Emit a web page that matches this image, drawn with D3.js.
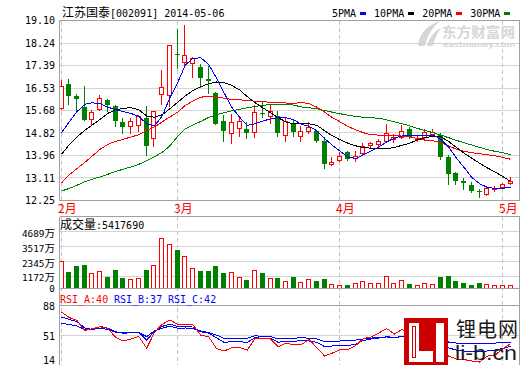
<!DOCTYPE html>
<html><head><meta charset="utf-8">
<script src="https://cdn.jsdelivr.net/npm/d3@7"></script>
<style>html,body{margin:0;padding:0;background:#fff}svg{display:block}</style>
</head><body>
<svg id="c" width="520" height="365"></svg>
<script>
// ---------------- data ----------------
const title = "江苏国泰[002091] 2014-05-06";
const dates = [
"2014-02-10","2014-02-11","2014-02-12","2014-02-13","2014-02-14",
"2014-02-17","2014-02-18","2014-02-19","2014-02-20","2014-02-21",
"2014-02-24","2014-02-25","2014-02-26","2014-02-27","2014-02-28",
"2014-03-03","2014-03-04","2014-03-05","2014-03-06","2014-03-07",
"2014-03-10","2014-03-11","2014-03-12","2014-03-13","2014-03-14",
"2014-03-17","2014-03-18","2014-03-19","2014-03-20","2014-03-21",
"2014-03-24","2014-03-25","2014-03-26","2014-03-27","2014-03-28",
"2014-03-31","2014-04-01","2014-04-02","2014-04-03","2014-04-04",
"2014-04-08","2014-04-09","2014-04-10","2014-04-11",
"2014-04-14","2014-04-15","2014-04-16","2014-04-17","2014-04-18",
"2014-04-21","2014-04-22","2014-04-23","2014-04-24","2014-04-25",
"2014-04-28","2014-04-29","2014-04-30","2014-05-05","2014-05-06"];
const open = [
15.78,16.69,16.21,15.81,15.37,15.73,16.08,15.84,15.23,15.08,
15.12,15.40,14.61,16.32,16.26,17.84,17.51,17.48,17.34,16.88,
16.35,15.29,14.81,15.00,14.99,14.85,15.59,15.46,15.46,14.73,
15.21,14.70,14.88,14.90,14.53,13.63,13.81,14.10,13.86,14.04,
14.35,14.41,14.50,14.60,14.67,14.97,14.59,14.66,14.77,14.74,
13.89,13.28,13.00,12.84,12.60,12.49,12.68,12.75,12.92];
const high = [
16.82,16.88,16.31,16.60,15.70,16.26,16.11,15.88,15.40,15.40,
15.52,15.85,15.67,17.20,18.18,18.78,18.92,17.73,17.43,17.36,
16.38,15.50,15.55,15.43,15.24,15.88,16.04,15.93,15.65,15.42,
15.32,15.07,15.23,14.95,14.65,13.89,14.10,14.14,14.15,14.45,
14.48,14.60,15.17,14.79,15.13,15.04,14.75,14.96,14.96,14.83,
13.99,13.34,13.10,12.94,12.70,12.75,12.80,12.91,13.14];
const low = [
15.75,15.93,15.71,15.33,15.17,15.70,15.65,15.10,14.83,14.80,
14.89,14.00,14.32,15.93,15.84,17.31,17.38,16.95,16.58,16.35,
15.15,14.53,14.43,14.69,14.64,14.67,15.42,15.19,14.71,14.53,
14.71,14.53,14.83,14.49,13.49,13.59,13.76,13.80,13.76,14.01,
14.29,14.33,14.48,14.48,14.62,14.62,14.52,14.54,14.69,13.82,
12.87,12.87,12.70,12.58,12.37,12.45,12.63,12.73,12.89];
const close = [
16.60,16.21,16.11,15.33,15.61,16.15,15.90,15.29,15.04,15.26,
15.45,14.34,15.65,16.56,18.16,17.78,17.79,17.68,16.92,16.78,
15.17,14.91,15.23,15.27,14.81,15.61,15.55,15.64,14.83,15.26,
14.87,14.89,15.04,14.53,13.63,13.72,13.96,13.84,13.95,14.34,
14.43,14.52,14.82,14.66,14.88,14.66,14.64,14.86,14.85,13.89,
13.27,13.00,12.90,12.60,12.58,12.71,12.73,12.87,12.99];
// volume in 万 (10k shares)
const volume = [
2384,1547,2016,2071,1422,1602,1157,1680,1078,977,
1078,1680,2071,4204,3712,3243,2774,1860,1602,1602,
1993,1469,1547,1157,899,1680,1469,1078,1078,820,
1157,719,977,820,977,563,508,508,641,820,
641,641,1211,641,899,586,508,641,586,1157,
1211,844,688,508,688,586,508,508,541.769];
const ma5 = [
14.83,15.24,15.63,15.91,15.97,15.93,15.80,15.71,15.63,15.56,
15.45,15.17,15.09,15.46,16.16,16.73,17.41,17.66,17.68,17.43,
16.92,16.35,15.80,15.42,15.11,15.17,15.27,15.36,15.40,15.40,
15.32,15.15,15.07,14.90,14.60,14.35,14.12,13.91,13.84,13.99,
14.14,14.29,14.48,14.62,14.71,14.74,14.73,14.74,14.74,14.58,
14.29,13.87,13.51,13.13,12.89,12.75,12.71,12.71,12.76];
const ma10 = [
14.01,14.37,14.67,14.92,15.13,15.34,15.57,15.70,15.76,15.78,
15.70,15.47,15.42,15.51,15.74,15.99,16.23,16.44,16.58,16.69,
16.76,16.73,16.63,16.46,16.20,15.97,15.78,15.59,15.40,15.24,
15.16,15.19,15.17,15.11,14.90,14.71,14.56,14.43,14.33,14.27,
14.24,14.22,14.22,14.27,14.35,14.43,14.56,14.64,14.70,14.67,
14.50,14.27,14.05,13.86,13.67,13.49,13.34,13.16,12.98];
const ma20 = [
12.92,13.23,13.46,13.70,13.95,14.20,14.39,14.50,14.58,14.67,
14.75,14.92,15.05,15.24,15.43,15.61,15.87,16.04,16.18,16.22,
16.20,16.14,16.10,16.08,16.06,16.03,16.01,15.99,15.97,15.96,
15.94,15.99,15.93,15.80,15.61,15.40,15.24,15.07,14.94,14.83,
14.75,14.74,14.74,14.72,14.70,14.67,14.61,14.54,14.52,14.46,
14.33,14.20,14.12,14.07,14.03,13.99,13.95,13.89,13.82];
const ma30 = [
12.61,12.71,12.83,12.96,13.06,13.15,13.25,13.36,13.44,13.53,
13.63,13.76,13.91,14.08,14.33,14.69,14.98,15.13,15.26,15.41,
15.51,15.59,15.66,15.72,15.78,15.83,15.87,15.90,15.92,15.91,
15.88,15.81,15.78,15.74,15.67,15.61,15.55,15.50,15.45,15.42,
15.40,15.38,15.32,15.24,15.17,15.09,14.99,14.91,14.83,14.74,
14.64,14.54,14.45,14.36,14.27,14.19,14.12,14.07,13.99];
const rsiA = [
79.8,72.9,69.2,56.6,59.1,61.4,59.1,47.9,43.5,46.0,
49.1,34.3,54.1,64.4,69.8,64.4,64.4,63.5,50.6,48.9,
34.3,30.9,35.1,35.1,32.2,46.6,46.0,46.0,36.3,41.0,
38.4,39.1,45.3,34.7,24.6,28.4,32.8,32.8,37.8,46.6,
48.5,53.5,59.1,52.2,57.9,49.7,51.0,56.0,54.7,32.2,
24.6,20.9,20.2,18.4,17.1,24.6,25.8,33.4,40.3];
const rsiB = [
73.6,70.4,67.9,59.8,57.9,61.7,59.4,55.1,53.1,54.1,
54.1,44.7,55.4,61.7,64.8,61.4,61.4,61.0,55.1,53.5,
47.6,41.8,42.6,42.6,41.8,47.6,46.8,46.8,41.8,43.5,
42.6,44.7,43.5,41.8,36.3,37.2,37.6,37.6,39.7,44.1,
46.0,47.2,48.9,47.9,49.1,47.9,48.5,49.7,49.1,39.7,
34.7,32.2,30.9,30.3,30.0,30.9,32.2,34.0,36.9];
const rsiC = [
65.7,64.2,62.3,57.9,58.1,59.4,57.9,54.4,54.1,54.1,
54.1,48.9,56.0,59.4,62.3,59.4,59.8,59.1,56.0,54.1,
51.0,46.8,46.8,46.8,46.8,50.1,49.1,48.9,46.0,46.8,
46.6,47.9,46.8,46.0,42.6,42.8,43.5,43.5,44.7,46.0,
47.2,47.9,48.5,47.9,48.9,48.5,48.5,49.1,49.1,44.7,
42.2,40.9,40.6,40.6,40.6,40.6,40.9,41.3,41.8];
const priceTicks = [12.25,13.11,13.96,14.82,15.68,16.53,17.39,18.24,19.10];
const volTicks = [0,1172,2345,3517,4689];
const rsiTicks = [14,51,88];
const maNames = ["5PMA","10PMA","20PMA","30PMA"];
const rsiNames = ["RSI_A","RSI_B","RSI_C"];

// ---------------- layout ----------------
const MONO = "'DejaVu Sans Mono','Liberation Mono',monospace";
const CJK = "'Noto Sans CJK SC','Noto Sans CJK JP',sans-serif";
const RED = "#ff0000", GREEN = "#008000", BLUE = "#0000ff", BLACK = "#000000";
const GRID = "#d4d4d4", BORDER = "#a0a0a0";
const L = 59.5, R = 519.5;
const pTop = 20.5, pBot = 200.5;
const vTop = 216.5, vBot = 288.5;
const rTop = 305.5, rBot = 364.5;

const svg = d3.select("#c");
const x = d3.scalePoint().domain(dates).range([61, 510]);
const y = d3.scaleLinear().domain([12.25, 19.10]).range([pBot, pTop]);
const yv = d3.scaleLinear().domain([0, 4689]).range([291.5, 231.5]);
const yr = d3.scaleLinear().domain([14, 88]).range([rBot, rTop]);
const px = v => Math.floor(v) + 0.5;
const cx = i => Math.floor(x(dates[i]));

function mixed(g, xx, yy, str, opts = {}) {
  const t = g.append("text").attr("x", xx).attr("y", yy)
    .attr("fill", opts.fill || "#000").attr("text-anchor", opts.anchor || "start");
  (str.match(/[\u4e00-\u9fff]+|[^\u4e00-\u9fff]+/g) || []).forEach(p => {
    const cjk = /[\u4e00-\u9fff]/.test(p);
    t.append("tspan").text(p).attr("font-family", cjk ? CJK : MONO)
      .attr("font-size", cjk ? (opts.cjkSize || 12) : (opts.size || 10));
  });
  return t;
}

const defs = svg.append("defs");
defs.append("clipPath").attr("id", "cp").append("rect").attr("x", 60).attr("y", 21).attr("width", 459).attr("height", 179);
defs.append("clipPath").attr("id", "cr").append("rect").attr("x", 60).attr("y", 306).attr("width", 459).attr("height", 59);

const g = svg.append("g");

// grids
g.selectAll(".pg").data(priceTicks).join("line")
  .attr("x1", L).attr("x2", R).attr("y1", d => px(y(d))).attr("y2", d => px(y(d)))
  .attr("stroke", GRID).attr("shape-rendering", "crispEdges");
g.selectAll(".vg").data(volTicks.filter(d => d > 0)).join("line")
  .attr("x1", L).attr("x2", R).attr("y1", d => px(yv(d))).attr("y2", d => px(yv(d)))
  .attr("stroke", GRID).attr("shape-rendering", "crispEdges");
g.append("line").attr("x1", L).attr("x2", R).attr("y1", px(yr(51))).attr("y2", px(yr(51)))
  .attr("stroke", GRID).attr("shape-rendering", "crispEdges");

// month dashed lines + labels
const monthIdx = dates.map((d, i) => i).filter(i => i === 0 || dates[i].slice(5, 7) !== dates[i - 1].slice(5, 7));
g.selectAll(".md").data(monthIdx).join("line")
  .attr("x1", i => cx(i) + 0.5).attr("x2", i => cx(i) + 0.5)
  .attr("y1", pTop).attr("y2", 365)
  .attr("stroke", "#c4c4c4").attr("stroke-dasharray", "4,3").attr("shape-rendering", "crispEdges");
monthIdx.forEach(i => {
  g.append("text").attr("x", cx(i) - 3).attr("y", 213).attr("fill", RED)
    .attr("font-family", CJK).attr("font-size", 12)
    .text(String(+dates[i].slice(5, 7)) + "月");
});

// candles
const cg = g.append("g").attr("shape-rendering", "crispEdges");
dates.forEach((d, i) => {
  const c = cx(i);
  const up = close[i] >= open[i];
  const yT = Math.round(y(Math.max(open[i], close[i])));
  const yB = Math.round(y(Math.min(open[i], close[i])));
  const yH = Math.round(y(high[i])), yL = Math.round(y(low[i]));
  if (up) {
    if (yH < yT) cg.append("line").attr("x1", c + 0.5).attr("x2", c + 0.5).attr("y1", yH).attr("y2", yT).attr("stroke", RED);
    if (yL > yB) cg.append("line").attr("x1", c + 0.5).attr("x2", c + 0.5).attr("y1", yB + 1).attr("y2", yL + 1).attr("stroke", RED);
    cg.append("rect").attr("x", c - 1.5).attr("y", yT + 0.5).attr("width", 4).attr("height", Math.max(yB - yT, 0.01))
      .attr("fill", "#fff").attr("stroke", RED);
  } else {
    cg.append("line").attr("x1", c + 0.5).attr("x2", c + 0.5).attr("y1", yH).attr("y2", yL + 1).attr("stroke", GREEN);
    cg.append("rect").attr("x", c - 2).attr("y", yT).attr("width", 5).attr("height", Math.max(yB - yT, 1)).attr("fill", GREEN);
  }
});

// moving averages
const maSeries = [[ma30, GREEN], [ma20, RED], [ma10, BLACK], [ma5, BLUE]];
const lp = d3.line().x((v, i) => x(dates[i]) + 0.5).y(v => y(v));
const mg = g.append("g").attr("clip-path", "url(#cp)");
maSeries.forEach(([arr, col]) => {
  mg.append("path").attr("d", lp(arr)).attr("fill", "none").attr("stroke", col)
    .attr("stroke-width", 1).attr("shape-rendering", "crispEdges");
});

// volume bars
const vg = g.append("g").attr("shape-rendering", "crispEdges");
volume.forEach((v, i) => {
  const c = cx(i);
  const up = close[i] >= open[i];
  const top = Math.round(yv(v));
  if (up) {
    vg.append("rect").attr("x", c - 1.5).attr("y", top + 0.5).attr("width", 4).attr("height", vBot - top - 0.5)
      .attr("fill", "#fff").attr("stroke", RED);
  } else {
    vg.append("rect").attr("x", c - 2).attr("y", top).attr("width", 5).attr("height", vBot - top).attr("fill", GREEN);
  }
});

// RSI lines
const lr = d3.line().x((v, i) => x(dates[i]) + 0.5).y(v => yr(v));
const rg = g.append("g").attr("clip-path", "url(#cr)");
[[rsiC, BLUE], [rsiB, BLUE], [rsiA, RED]].forEach(([arr, col]) => {
  rg.append("path").attr("d", lr(arr)).attr("fill", "none").attr("stroke", col)
    .attr("stroke-width", 1).attr("shape-rendering", "crispEdges");
});

// borders
const bg = g.append("g").attr("stroke", BORDER).attr("fill", "none").attr("shape-rendering", "crispEdges");
bg.append("rect").attr("x", L).attr("y", pTop).attr("width", R - L).attr("height", pBot - pTop);
bg.append("line").attr("x1", L).attr("x2", R).attr("y1", vTop).attr("y2", vTop);
bg.append("line").attr("x1", L).attr("x2", R).attr("y1", vBot).attr("y2", vBot);
bg.append("line").attr("x1", L).attr("x2", R).attr("y1", rTop).attr("y2", rTop);
bg.append("line").attr("x1", L).attr("x2", L).attr("y1", vTop).attr("y2", 365);
bg.append("line").attr("x1", R).attr("x2", R).attr("y1", vTop).attr("y2", 365);

// axis labels
priceTicks.forEach(t => {
  g.append("text").attr("x", 55).attr("y", y(t) + 3.6).attr("text-anchor", "end")
    .attr("font-family", MONO).attr("font-size", 10).text(t.toFixed(2));
});
volTicks.forEach(t => {
  const yy = (t === 0 ? 288 : yv(t) + (t === 1172 ? 0.8 : 1.6)) + 3.6;
  mixed(g, 55, yy, t === 0 ? "0" : t + "万", { anchor: "end", cjkSize: 10.5, size: 9.4 });
});
rsiTicks.forEach(t => {
  const yy = Math.min(yr(t) + 1, 360) + 3.6;
  g.append("text").attr("x", 55).attr("y", yy).attr("text-anchor", "end")
    .attr("font-family", MONO).attr("font-size", 10).text(t);
});

// titles
mixed(g, 62, 17, title);
let lx = 332;
[[maNames[0], BLUE], [maNames[1], BLACK], [maNames[2], RED], [maNames[3], GREEN]].forEach(([n, col]) => {
  g.append("text").attr("x", lx).attr("y", 17).attr("font-family", MONO).attr("font-size", 10).text(n);
  lx += n.length * 6.02 + 3.5;
  g.append("rect").attr("x", Math.round(lx)).attr("y", 12).attr("width", 6).attr("height", 3).attr("fill", col);
  lx += 6 + 8.5;
});
mixed(g, 60, 229, "成交量:" + Math.round(volume[volume.length - 1] * 10000));
const last = a => Math.round(a[a.length - 1]);
[[rsiNames[0], rsiA, RED], [rsiNames[1], rsiB, BLUE], [rsiNames[2], rsiC, BLUE]].forEach(([n, arr, col], k) => {
  g.append("text").attr("x", 60 + k * 54).attr("y", 303).attr("fill", col)
    .attr("font-family", MONO).attr("font-size", 10).text(n + ":" + last(arr));
});

// eastmoney watermark
const wm = g.append("g").attr("fill", "#d6d6d6");
wm.append("path").attr("d", "M418,46 C419,34 427,25 440,21 C432,28 427,36 425,46 Z");
wm.append("path").attr("d", "M427,46 C429,38 434,31 441,28 C437,34 434,40 433,46 Z");
wm.append("text").attr("x", 442).attr("y", 36.5).attr("font-family", CJK).attr("font-weight", "bold")
  .attr("font-size", 13.5).attr("textLength", 73).attr("lengthAdjust", "spacingAndGlyphs").text("东方财富网");
wm.append("text").attr("x", 443).attr("y", 47).attr("font-family", "'DejaVu Sans',sans-serif").attr("font-weight", "bold")
  .attr("font-size", 7.5).attr("textLength", 72).attr("lengthAdjust", "spacingAndGlyphs").text("eastmoney.com");

// li-b.cn logo
const lg = g.append("g").attr("shape-rendering", "crispEdges");
lg.append("rect").attr("x", 404).attr("y", 318).attr("width", 44).attr("height", 47).attr("fill", "#cc0000");
lg.append("rect").attr("x", 409).attr("y", 323).attr("width", 10).attr("height", 39).attr("fill", "#fff");
lg.append("rect").attr("x", 409).attr("y", 351).attr("width", 24).attr("height", 11).attr("fill", "#fff");
lg.append("rect").attr("x", 436).attr("y", 323).attr("width", 8).attr("height", 39).attr("fill", "#fff");
lg.append("rect").attr("x", 412.5).attr("y", 326.5).attr("width", 3).attr("height", 31).attr("fill", "none").attr("stroke", "#cc0000");
g.append("text").attr("x", 456).attr("y", 337).attr("font-family", CJK).attr("font-size", 20)
  .attr("textLength", 62).attr("lengthAdjust", "spacing").attr("fill", "#1a1a1a").text("锂电网");
g.append("text").attr("x", 455).attr("y", 360).attr("font-family", "'Liberation Sans','DejaVu Sans',sans-serif").attr("font-size", 20)
  .attr("textLength", 62).attr("lengthAdjust", "spacingAndGlyphs").attr("fill", "#1a1a1a").text("li-b.cn");
</script>
</body></html>
